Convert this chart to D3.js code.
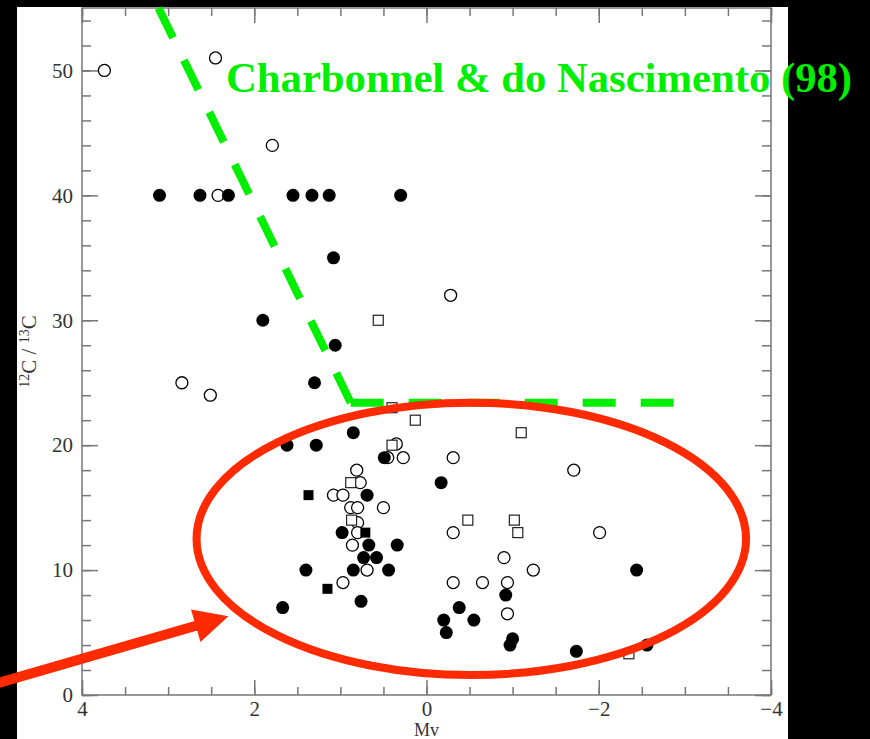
<!DOCTYPE html>
<html>
<head>
<meta charset="utf-8">
<script src="https://cdn.jsdelivr.net/npm/d3@7"></script>
<style>
  body { margin: 0; background: #000; }
  svg { display: block; }
</style>
</head>
<body>
<svg id="chart" width="870" height="739"></svg>
<script>
// data: [Mv, 12C/13C]
const filledCircles = [
  [3.10, 40], [2.63, 40], [2.30, 40], [1.55, 40], [1.33, 40], [1.13, 40], [0.30, 40],
  [1.08, 35], [1.90, 30], [1.06, 28], [1.30, 25],
  [0.85, 21], [1.62, 20], [1.28, 20], [0.49, 19], [-0.17, 17], [0.69, 16],
  [0.98, 13], [0.67, 12], [0.34, 12], [0.73, 11], [0.58, 11],
  [1.40, 10], [0.85, 10], [0.44, 10], [-2.44, 10],
  [0.76, 7.5], [1.67, 7], [-0.92, 8], [-0.38, 7], [-0.20, 6], [-0.55, 6], [-0.23, 5],
  [-1.00, 4.5], [-0.97, 4], [-1.74, 3.5], [-2.56, 4]
];
const openCircles = [
  [3.74, 50], [2.45, 51], [1.79, 44], [2.42, 40], [2.84, 25], [2.51, 24], [-0.28, 32],
  [0.35, 20.1], [0.45, 19], [0.27, 19], [-0.31, 19], [-1.71, 18], [0.81, 18], [0.77, 17],
  [1.08, 16], [0.97, 16], [0.88, 15], [0.80, 15], [0.50, 15], [0.80, 13.8], [0.80, 13],
  [0.86, 12], [0.69, 10], [0.97, 9],
  [-0.31, 13], [-2.01, 13], [-0.90, 11], [-1.24, 10], [-0.31, 9], [-0.65, 9], [-0.94, 9], [-0.94, 6.5]
];
const openSquares = [
  [0.56, 30], [0.40, 23], [0.13, 22], [-1.10, 21], [0.40, 20], [0.88, 17], [0.87, 14],
  [-0.48, 14], [-1.02, 14], [-1.06, 13], [-2.35, 3.3]
];
const filledSquares = [[1.37, 16], [0.71, 13], [1.15, 8.5]];

const xTicks = [4, 2, 0, -2, -4];
const yTicks = [0, 10, 20, 30, 40, 50];

// model curve (Charbonnel & do Nascimento 98) and highlight shapes
const modelLine = [[3.21, 56.4], [0.88, 23.4], [-2.9, 23.4]];
const ellipseCenter = [-0.52, 12.5], ellipseRadii = [3.19, 10.9];
const arrowFrom = [5.0, 0.9], arrowTo = [2.30, 6.3];

const svg = d3.select("#chart");
const margin = { left: 82, right: 99, top: 8, bottom: 44 };
const W = 870, H = 739;

const x = d3.scaleLinear().domain([4, -4]).range([margin.left, W - margin.right]);
const y = d3.scaleLinear().domain([0, 55]).range([H - margin.bottom, margin.top]);

// white page
svg.append("rect").attr("x", 17).attr("y", 7).attr("width", 771).attr("height", 732).attr("fill", "#fff");

const axisColor = "#777";
function styleAxis(g) {
  g.select(".domain").remove();
  g.selectAll("line").attr("stroke", axisColor).attr("stroke-width", 1.5);
  g.selectAll("text").attr("fill", "#333").style("font-family", "Liberation Serif, serif").style("font-size", "21px");
}
const yMinor = d3.range(0, 55, 2);
const xMinor = d3.range(-4, 4.01, 0.5);

// bottom
svg.append("g").attr("transform", `translate(0,${y(0)})`)
  .call(d3.axisBottom(x).tickValues(xMinor).tickSize(-8).tickFormat("")).call(styleAxis);
svg.append("g").attr("transform", `translate(0,${y(0)})`)
  .call(d3.axisBottom(x).tickValues(xTicks).tickSize(-15).tickPadding(6).tickFormat(d3.format("d"))).call(styleAxis)
  .selectAll("text").attr("dy", "0.7em");
// top
svg.append("g").attr("transform", `translate(0,${y(55)})`)
  .call(d3.axisTop(x).tickValues(xMinor).tickSize(-8).tickFormat("")).call(styleAxis);
svg.append("g").attr("transform", `translate(0,${y(55)})`)
  .call(d3.axisTop(x).tickValues(xTicks).tickSize(-15).tickFormat("")).call(styleAxis);
// left
svg.append("g").attr("transform", `translate(${x(4)},0)`)
  .call(d3.axisLeft(y).tickValues(yMinor).tickSize(-9).tickFormat("")).call(styleAxis);
svg.append("g").attr("transform", `translate(${x(4)},0)`)
  .call(d3.axisLeft(y).tickValues(yTicks).tickSize(-16).tickPadding(9).tickFormat(d3.format("d"))).call(styleAxis);
// right
svg.append("g").attr("transform", `translate(${x(-4)},0)`)
  .call(d3.axisRight(y).tickValues(yMinor).tickSize(-9).tickFormat("")).call(styleAxis);
svg.append("g").attr("transform", `translate(${x(-4)},0)`)
  .call(d3.axisRight(y).tickValues(yTicks).tickSize(-16).tickFormat("")).call(styleAxis);

// frame
svg.append("rect")
  .attr("x", x(4)).attr("y", y(55))
  .attr("width", x(-4) - x(4)).attr("height", y(0) - y(55))
  .attr("fill", "none").attr("stroke", axisColor).attr("stroke-width", 1.5);

// axis titles
svg.append("text")
  .attr("x", (x(4) + x(-4)) / 2).attr("y", 736)
  .attr("text-anchor", "middle").attr("fill", "#333")
  .style("font-family", "Liberation Serif, serif").style("font-size", "18px")
  .text("Mv");
const yt = svg.append("text")
  .attr("transform", `translate(36,${(y(0) + y(55)) / 2}) rotate(-90)`)
  .attr("text-anchor", "middle").attr("fill", "#333")
  .style("font-family", "Liberation Serif, serif").style("font-size", "21px");
yt.append("tspan").attr("font-size", "14px").attr("dy", "-7").text("12");
yt.append("tspan").attr("dy", "7").text("C / ");
yt.append("tspan").attr("font-size", "14px").attr("dy", "-7").text("13");
yt.append("tspan").attr("dy", "7").text("C");

// points
const pts = svg.append("g");
pts.selectAll(".oc").data(openCircles).join("circle")
  .attr("cx", d => x(d[0])).attr("cy", d => y(d[1])).attr("r", 6)
  .attr("fill", "#fff").attr("stroke", "#000").attr("stroke-width", 1.3);
pts.selectAll(".os").data(openSquares).join("rect")
  .attr("x", d => x(d[0]) - 5).attr("y", d => y(d[1]) - 5).attr("width", 10).attr("height", 10)
  .attr("fill", "#fff").attr("stroke", "#222").attr("stroke-width", 1.2);
pts.selectAll(".fc").data(filledCircles).join("circle")
  .attr("cx", d => x(d[0])).attr("cy", d => y(d[1])).attr("r", 6.5)
  .attr("fill", "#000");
pts.selectAll(".fs").data(filledSquares).join("rect")
  .attr("x", d => x(d[0]) - 5).attr("y", d => y(d[1]) - 5).attr("width", 10).attr("height", 10)
  .attr("fill", "#000");

// green model line, dashed from the corner outwards
const green = "#00ee00";
[[modelLine[1], modelLine[0]], [modelLine[1], modelLine[2]]].forEach(seg => {
  svg.append("line")
    .attr("x1", x(seg[0][0])).attr("y1", y(seg[0][1]))
    .attr("x2", x(seg[1][0])).attr("y2", y(seg[1][1]))
    .attr("stroke", green).attr("stroke-width", 8)
    .attr("stroke-dasharray", "33 25");
});
svg.append("text")
  .attr("x", 226).attr("y", 92)
  .attr("fill", green)
  .style("font-family", "Liberation Serif, serif").style("font-weight", "bold").style("font-size", "42.7px")
  .text("Charbonnel & do Nascimento (98)");

// red ellipse
const red = "#ff2a00";
svg.append("ellipse")
  .attr("cx", x(ellipseCenter[0])).attr("cy", y(ellipseCenter[1]))
  .attr("rx", Math.abs(x(ellipseCenter[0] + ellipseRadii[0]) - x(ellipseCenter[0])))
  .attr("ry", Math.abs(y(ellipseCenter[1] + ellipseRadii[1]) - y(ellipseCenter[1])))
  .attr("fill", "none").attr("stroke", red).attr("stroke-width", 8);

// red arrow
const ax0 = x(arrowFrom[0]), ay0 = y(arrowFrom[1]), ax1 = x(arrowTo[0]), ay1 = y(arrowTo[1]);
const len = Math.hypot(ax1 - ax0, ay1 - ay0), ux = (ax1 - ax0) / len, uy = (ay1 - ay0) / len;
const headLen = 34, headHalf = 17;
const bx = ax1 - ux * headLen, by = ay1 - uy * headLen;
svg.append("line")
  .attr("x1", ax0).attr("y1", ay0).attr("x2", bx + ux * 2).attr("y2", by + uy * 2)
  .attr("stroke", red).attr("stroke-width", 10);
svg.append("polygon")
  .attr("points", [[ax1, ay1], [bx - uy * headHalf, by + ux * headHalf], [bx + uy * headHalf, by - ux * headHalf]].map(p => p.join(",")).join(" "))
  .attr("fill", red);
</script>
</body>
</html>
